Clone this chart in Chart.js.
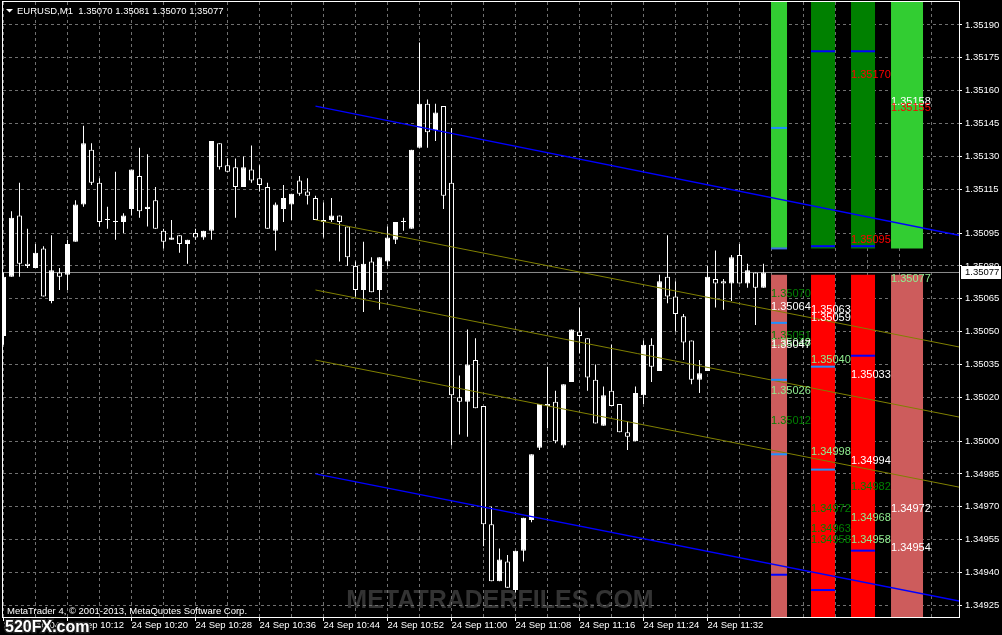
<!DOCTYPE html>
<html lang="en">
<head>
<meta charset="UTF-8">
<title>EURUSD,M1</title>
<script src="https://cdn.jsdelivr.net/npm/chart.js"></script>
<style>
    * { margin: 0; padding: 0; box-sizing: border-box; }
    body { background: #000; width: 1002px; height: 635px; overflow: hidden; }
    canvas { display: block; }
</style>
</head>
<body>
<canvas id="chart" width="1002" height="635"></canvas>
<script>
    // one M1 bar per minute, bar 0 = 24 Sep 10:04
    const barOpen = [
        1.35048, 1.35075, 1.35103, 1.35081, 1.35079, 1.35088, 1.35064, 1.35077, 1.35076, 1.35091, 1.35108, 1.35133,
        1.35118, 1.35101, 1.35100, 1.35100, 1.35106, 1.35121, 1.35106, 1.35110, 1.35096, 1.35092, 1.35094, 1.35090,
        1.35095, 1.35093, 1.35096, 1.35136, 1.35126, 1.35125, 1.35116, 1.35124, 1.35120, 1.35116, 1.35096, 1.35106,
        1.35108, 1.35119, 1.35114, 1.35111, 1.35100, 1.35101, 1.35103, 1.35098, 1.35080, 1.35069, 1.35082, 1.35069,
        1.35082, 1.35092, 1.35100, 1.35097, 1.35134, 1.35154, 1.35142, 1.35153, 1.35118, 1.35020, 1.35018, 1.35037,
        1.35016, 1.34962, 1.34936, 1.34945, 1.34932, 1.34950, 1.34964, 1.34997, 1.35017, 1.35018, 1.34998, 1.35027,
        1.35050, 1.35047, 1.35028, 1.35007, 1.35023, 1.35017, 1.35004, 1.35000, 1.35021, 1.35044, 1.35032, 1.35075,
        1.35066, 1.35057, 1.35046, 1.35028, 1.35032, 1.35074, 1.35073, 1.35072, 1.35085, 1.35072, 1.35077, 1.35070
    ];
    const barHigh = [
        1.35077, 1.35105, 1.35118, 1.35097, 1.35090, 1.35089, 1.35094, 1.35079, 1.35092, 1.35110, 1.35144, 1.35136,
        1.35120, 1.35107, 1.35123, 1.35104, 1.35124, 1.35134, 1.35131, 1.35116, 1.35097, 1.35101, 1.35094, 1.35092,
        1.35097, 1.35096, 1.35137, 1.35136, 1.35129, 1.35129, 1.35130, 1.35135, 1.35126, 1.35118, 1.35109, 1.35117,
        1.35113, 1.35121, 1.35120, 1.35112, 1.35109, 1.35111, 1.35103, 1.35098, 1.35082, 1.35091, 1.35084, 1.35084,
        1.35098, 1.35100, 1.35102, 1.35133, 1.35182, 1.35156, 1.35154, 1.35153, 1.35143, 1.35030, 1.35051, 1.35047,
        1.35016, 1.34970, 1.34951, 1.34948, 1.34950, 1.34965, 1.34994, 1.35017, 1.35034, 1.35023, 1.35026, 1.35051,
        1.35061, 1.35047, 1.35035, 1.35025, 1.35044, 1.35017, 1.35009, 1.35025, 1.35046, 1.35047, 1.35076, 1.35094,
        1.35073, 1.35058, 1.35046, 1.35037, 1.35080, 1.35087, 1.35074, 1.35085, 1.35090, 1.35081, 1.35077, 1.35081
    ];
    const barLow = [
        1.35044, 1.35075, 1.35075, 1.35079, 1.35079, 1.35066, 1.35063, 1.35069, 1.35069, 1.35091, 1.35107, 1.35117,
        1.35098, 1.35097, 1.35092, 1.35095, 1.35103, 1.35102, 1.35098, 1.35097, 1.35088, 1.35092, 1.35086, 1.35081,
        1.35092, 1.35092, 1.35092, 1.35124, 1.35123, 1.35102, 1.35116, 1.35118, 1.35114, 1.35097, 1.35087, 1.35100,
        1.35101, 1.35112, 1.35108, 1.35101, 1.35093, 1.35100, 1.35082, 1.35080, 1.35066, 1.35059, 1.35068, 1.35060,
        1.35080, 1.35090, 1.35096, 1.35097, 1.35134, 1.35134, 1.35137, 1.35106, 1.34998, 1.35003, 1.35002, 1.35015,
        1.34952, 1.34936, 1.34936, 1.34933, 1.34931, 1.34945, 1.34963, 1.34996, 1.35006, 1.34999, 1.34997, 1.35027,
        1.35040, 1.35023, 1.35008, 1.35007, 1.35016, 1.35004, 1.34996, 1.35000, 1.35017, 1.35027, 1.35032, 1.35063,
        1.35050, 1.35037, 1.35026, 1.35022, 1.35032, 1.35061, 1.35060, 1.35064, 1.35072, 1.35070, 1.35053, 1.35070
    ];
    const barClose = [
        1.35075, 1.35102, 1.35081, 1.35080, 1.35086, 1.35066, 1.35078, 1.35075, 1.35090, 1.35108, 1.35136, 1.35118,
        1.35100, 1.35101, 1.35100, 1.35103, 1.35124, 1.35105, 1.35107, 1.35097, 1.35091, 1.35093, 1.35090, 1.35092,
        1.35093, 1.35096, 1.35137, 1.35125, 1.35123, 1.35116, 1.35125, 1.35119, 1.35117, 1.35097, 1.35108, 1.35111,
        1.35113, 1.35113, 1.35112, 1.35101, 1.35101, 1.35103, 1.35100, 1.35084, 1.35069, 1.35081, 1.35068, 1.35084,
        1.35093, 1.35100, 1.35100, 1.35133, 1.35154, 1.35141, 1.35150, 1.35112, 1.35021, 1.35018, 1.35035, 1.35015,
        1.34962, 1.34936, 1.34946, 1.34933, 1.34950, 1.34965, 1.34994, 1.35017, 1.35016, 1.35000, 1.35026, 1.35051,
        1.35048, 1.35029, 1.35008, 1.35021, 1.35016, 1.35004, 1.35002, 1.35022, 1.35044, 1.35034, 1.35073, 1.35066,
        1.35058, 1.35045, 1.35028, 1.35031, 1.35075, 1.35072, 1.35072, 1.35084, 1.35072, 1.35078, 1.35070, 1.35077
    ];

    const xTickBars = [0, 8, 16, 24, 32, 40, 48, 56, 64, 72, 80, 88];
    const xTickLabels = ["24 Sep 10:04", "24 Sep 10:12", "24 Sep 10:20", "24 Sep 10:28", "24 Sep 10:36", "24 Sep 10:44",
                         "24 Sep 10:52", "24 Sep 11:00", "24 Sep 11:08", "24 Sep 11:16", "24 Sep 11:24", "24 Sep 11:32"];
    const priceTicks = [1.35190, 1.35175, 1.35160, 1.35145, 1.35130, 1.35115, 1.35095, 1.35080, 1.35065,
                        1.35050, 1.35035, 1.35020, 1.35000, 1.34985, 1.34970, 1.34955, 1.34940, 1.34925];
    const lastPrice = 1.35077;
    const headerText = "EURUSD,M1  1.35070 1.35081 1.35070 1.35077";

    // regression channel, from bar 39 to the right edge
    const channelBars = [39, 119.4375];
    const channelUpper = [1.35153, 1.35094];
    const channelTop = [1.35101, 1.35043];
    const channelMid = [1.35069, 1.35011];
    const channelBottom = [1.35037, 1.34979];
    const channelLower = [1.34985, 1.34927];

    // four level columns right of the last bar
    const colCenters = [96.94, 102.44, 107.44, 112.94];
    const colUpperFrom = [1.35088, 1.35088, 1.35088, 1.35088];
    const colLowerTo = [1.35076, 1.35076, 1.35076, 1.35076];

    const markerCol = [0, 0, 0, 0, 0, 0, 1, 1, 1, 1, 1, 2, 2, 2, 2];
    const markerPrice = [1.35143, 1.35088, 1.35054, 1.35028, 1.34994, 1.34939,
                         1.35178, 1.35089, 1.35034, 1.34987, 1.34932,
                         1.35178, 1.35089, 1.35039, 1.34950];

    const labelCol = [2, 2, 3, 3, 3, 3, 3,
                      0, 0, 0, 0, 0, 0, 0,
                      1, 1, 1, 1, 1, 1, 1,
                      2, 2, 2, 2, 2];
    const labelPrice = [1.35170, 1.35095, 1.35158, 1.35155, 1.35077, 1.34972, 1.34954,
                        1.35070, 1.35064, 1.35051, 1.35048, 1.35047, 1.35026, 1.35012,
                        1.35063, 1.35059, 1.35040, 1.34998, 1.34972, 1.34963, 1.34958,
                        1.35033, 1.34994, 1.34982, 1.34968, 1.34958];
    const labelKind = ["red", "red", "white", "red", "light", "white", "white",
                       "dark", "white", "dark", "light", "white", "light", "dark",
                       "white", "white", "light", "light", "dark", "dark", "dark",
                       "white", "white", "dark", "light", "light"];

    // drawing constants
    const Y_MIN = 1.349197, Y_MAX = 1.352005;
    const X_MIN = -0.0625, X_MAX = 119.4375;
    const GRID = '#707070';
    const colWidths = [16, 24, 24, 32];
    const colUpperColor = ['#32CD32', '#008000', '#008000', '#32CD32'];
    const colLowerColor = ['#CD5C5C', '#FF0000', '#FF0000', '#CD5C5C'];
    const markerColors = ['#1E90FF', '#3A6FE0', '#1E90FF', '#1E90FF', '#1E90FF', '#0000FF',
                          '#0000FF', '#0000FF', '#1E90FF', '#1E90FF', '#0000FF',
                          '#0000FF', '#0000FF', '#0000FF', '#0000FF'];
    const textColors = { red: '#FF0000', white: '#FFFFFF', light: '#90EE90', dark: '#008000' };

    let gridBars = [];
    for (let b = 0; b <= 116; b += 4) gridBars.push(b);

    let datasets = [];

    // markers on the columns
    datasets.push({
        type: 'scatter',
        data: markerPrice.map((p, i) => ({ x: colCenters[markerCol[i]], y: p })),
        pointStyle: 'line',
        pointRadius: markerCol.map(c => colWidths[c] / 2),
        pointBorderWidth: 2,
        pointBorderColor: markerColors,
        order: 0
    });

    // channel lines
    [[channelUpper, '#0000FF', 1.3], [channelLower, '#0000FF', 1.3],
     [channelTop, '#808000', 1], [channelMid, '#808000', 1], [channelBottom, '#808000', 1]].forEach(l => {
        datasets.push({
            type: 'line',
            data: channelBars.map((b, i) => ({ x: b, y: l[0][i] })),
            borderColor: l[1],
            borderWidth: l[2],
            pointRadius: 0,
            order: 1
        });
    });

    let barBase = { type: 'bar', stack: 'all', borderSkipped: false, inflateAmount: 0, clip: 0 };

    // candle bodies
    datasets.push(Object.assign({}, barBase, {
        data: barOpen.map((o, i) => ({ x: i, y: [o, barClose[i]] })),
        backgroundColor: barOpen.map((o, i) => barClose[i] >= o ? '#FFFFFF' : '#000000'),
        borderColor: '#FFFFFF',
        borderWidth: 1,
        barThickness: 5,
        minBarLength: 1,
        order: 3
    }));

    // wicks
    datasets.push(Object.assign({}, barBase, {
        data: barLow.map((l, i) => ({ x: i, y: [l, barHigh[i]] })),
        backgroundColor: '#FFFFFF',
        barThickness: 1,
        minBarLength: 1,
        order: 4
    }));

    // level columns
    colCenters.forEach((c, i) => {
        datasets.push(Object.assign({}, barBase, {
            data: [{ x: c, y: [colUpperFrom[i], Y_MAX] }, { x: c, y: [Y_MIN, colLowerTo[i]] }],
            backgroundColor: [colUpperColor[i], colLowerColor[i]],
            barThickness: colWidths[i],
            order: 5
        }));
    });

    // bid line
    datasets.push({
        type: 'line',
        data: [{ x: X_MIN, y: lastPrice }, { x: X_MAX, y: lastPrice }],
        borderColor: '#8C8C8C',
        borderWidth: 1,
        pointRadius: 0,
        order: 6
    });

    const mt4Plugin = {
        id: 'mt4',
        beforeDraw(chart) {
            let ctx = chart.ctx;
            ctx.save();
            ctx.fillStyle = '#000';
            ctx.fillRect(0, 0, chart.width, chart.height);
            ctx.font = 'bold 25px "Liberation Sans"';
            ctx.fillStyle = '#333333';
            ctx.textAlign = 'center';
            ctx.textBaseline = 'alphabetic';
            ctx.fillText('METATRADERFILES.COM', 500, 608);
            ctx.restore();
        },
        afterDatasetsDraw(chart) {
            let ctx = chart.ctx, xs = chart.scales.x, ys = chart.scales.y;
            ctx.save();
            ctx.font = '11px "Liberation Sans"';
            ctx.textBaseline = 'top';
            ctx.textAlign = 'left';
            labelPrice.forEach((p, i) => {
                let c = labelCol[i];
                let left = xs.getPixelForValue(colCenters[c]) - colWidths[c] / 2;
                ctx.fillStyle = textColors[labelKind[i]];
                ctx.fillText(p.toFixed(5), left, ys.getPixelForValue(p) + 1);
            });
            ctx.restore();
        },
        afterDraw(chart) {
            let ctx = chart.ctx, a = chart.chartArea, ys = chart.scales.y;
            ctx.save();
            // frame
            ctx.strokeStyle = '#FFFFFF';
            ctx.lineWidth = 1;
            ctx.strokeRect(a.left - 0.5, a.top - 0.5, a.right - a.left + 1, a.bottom - a.top + 1);

            // last price box on the axis
            let py = Math.round(ys.getPixelForValue(lastPrice));
            ctx.fillStyle = '#FFFFFF';
            ctx.fillRect(a.right + 2, py - 6, 40, 13);
            ctx.fillStyle = '#000000';
            ctx.font = '9.5px "Liberation Sans"';
            ctx.textBaseline = 'middle';
            ctx.fillText(lastPrice.toFixed(5), a.right + 6, py + 0.5);

            // header
            ctx.fillStyle = '#FFFFFF';
            ctx.beginPath();
            ctx.moveTo(6, 9); ctx.lineTo(13, 9); ctx.lineTo(9.5, 12.5); ctx.closePath();
            ctx.fill();
            ctx.textBaseline = 'alphabetic';
            ctx.fillText(headerText, 17, 14);
            ctx.fillText('MetaTrader 4, \u00A9 2001-2013, MetaQuotes Software Corp.', 7, 614);

            // site logo
            ctx.font = 'bold 16px "Liberation Sans"';
            ctx.lineWidth = 3;
            ctx.strokeStyle = '#202020';
            ctx.strokeText('520FX.com', 5, 632);
            ctx.fillStyle = '#FFFFFF';
            ctx.fillText('520FX.com', 5, 632);
            ctx.restore();
        }
    };

    new Chart(document.getElementById('chart'), {
        type: 'bar',
        data: { datasets: datasets },
        options: {
            responsive: false,
            animation: false,
            devicePixelRatio: 1,
            layout: { autoPadding: false, padding: { left: 3, top: 2, right: 0, bottom: 0 } },
            plugins: { legend: { display: false }, tooltip: { enabled: false } },
            events: [],
            scales: {
                x: {
                    type: 'linear',
                    min: X_MIN,
                    max: X_MAX,
                    offset: false,
                    afterBuildTicks: s => { s.ticks = gridBars.map(v => ({ value: v })); },
                    afterFit: s => { s.height = 18; s.paddingLeft = 0; s.paddingRight = 0; },
                    grid: {
                        color: GRID,
                        offset: false,
                        tickLength: 4,
                        tickColor: c => xTickBars.includes(c.tick.value) ? '#FFFFFF' : 'rgba(0,0,0,0)'
                    },
                    border: { display: false, dash: [3, 3] },
                    ticks: {
                        autoSkip: false,
                        maxRotation: 0,
                        minRotation: 0,
                        align: 'start',
                        padding: 0,
                        color: '#FFFFFF',
                        font: { family: 'Liberation Sans', size: 9.5, lineHeight: 1 },
                        callback: v => {
                            let i = xTickBars.indexOf(v);
                            return i >= 0 ? xTickLabels[i] : '';
                        }
                    }
                },
                y: {
                    position: 'right',
                    min: Y_MIN,
                    max: Y_MAX,
                    stacked: false,
                    afterBuildTicks: s => { s.ticks = priceTicks.map(v => ({ value: v })); },
                    afterFit: s => { s.width = 43; s.paddingTop = 0; s.paddingBottom = 0; },
                    grid: { color: GRID, tickLength: 3, tickColor: '#FFFFFF' },
                    border: { display: false, dash: [3, 3] },
                    ticks: {
                        padding: 3,
                        color: '#FFFFFF',
                        font: { family: 'Liberation Sans', size: 9.5 },
                        callback: v => v.toFixed(5)
                    }
                }
            }
        },
        plugins: [mt4Plugin]
    });
</script>
</body>
</html>
